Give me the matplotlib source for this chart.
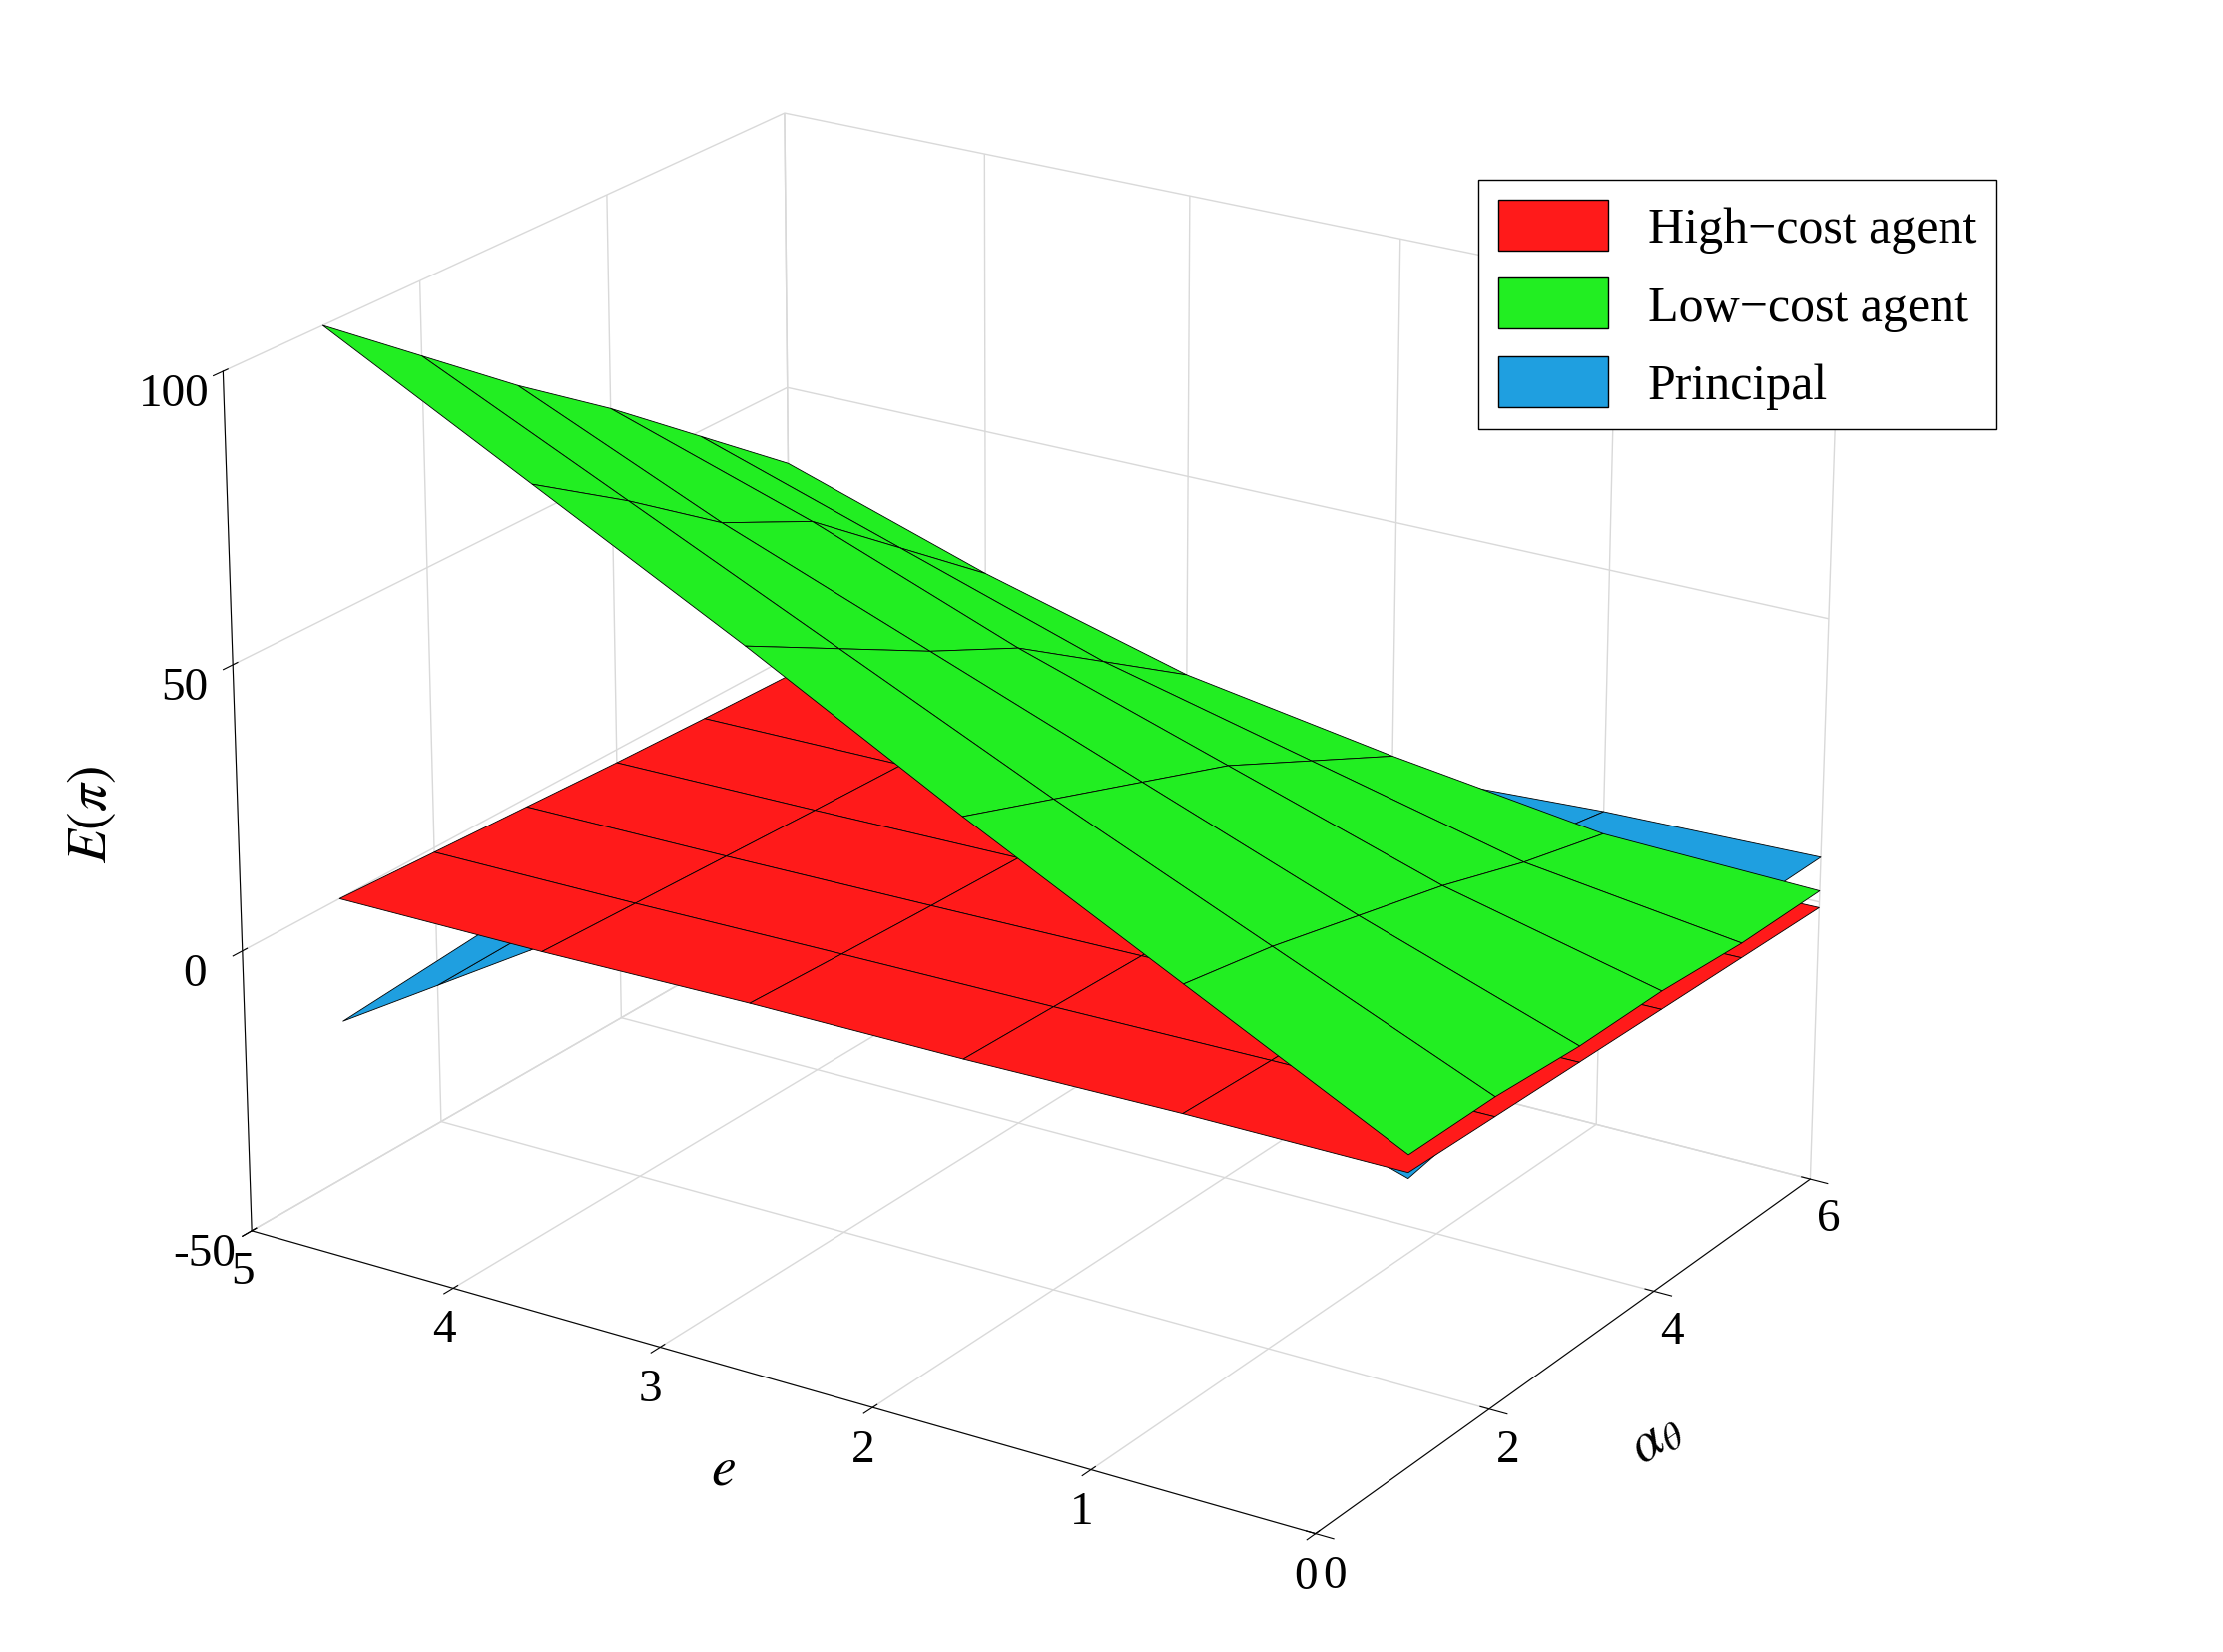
import numpy as np
import matplotlib
matplotlib.use("Agg")
import matplotlib.pyplot as plt
from matplotlib.patches import Patch

plt.rcParams['font.family'] = ['Liberation Serif', 'DejaVu Serif']
plt.rcParams['mathtext.fontset'] = 'stix'
plt.rcParams['axes.unicode_minus'] = False

alpha_vals = [1, 2, 3, 4, 5, 6]
e_vals = [0, 1, 2, 3, 4, 5]

# rows: alpha, cols: e
green_z = [
    [4, 23, 42, 62, 81, 100],
    [4, 20, 36, 53, 70, 87],
    [3, 16, 30, 44, 58, 74],
    [3, 12, 24, 36, 50, 62],
    [2, 7, 16, 25, 37, 49],
    [2, 3, 8, 14, 24, 36],
]
red_z = [
    [1, 1, 0.5, 0.5, 0, 0],
    [0.6, 0.4, 0, -0.3, -0.7, -0.8],
    [0.2, 0, -0.5, -1, -1.4, -1.6],
    [-0.2, -0.5, -1, -1.6, -2.1, -2.4],
    [-0.6, -1, -1.5, -2, -2.7, -3],
    [-1, -1.5, -2, -2.5, -3, -3.5],
]
blue_z = [
    [0, 12, 22, 25, 10, -22],
    [3, 13, 20, 20, 5, -25],
    [6, 13, 17, 14, 0, -28],
    [8, 12, 13, 9, -4, -30],
    [8, 10, 10, 5, -8, -32],
    [8, 7, 5, 0, -12, -35],
]

A, E = np.meshgrid(alpha_vals, e_vals, indexing='ij')

fig = plt.figure(figsize=(22.27, 16.56), dpi=100)
ax = fig.add_subplot(111, projection='3d')
ax.set_position([-0.07, -0.03, 1.05, 1.08])

kw = dict(edgecolor='black', linewidth=0.6, shade=False, rstride=1, cstride=1)
ax.plot_surface(A, E, np.array(red_z), color='#ff1a1a', **kw)
ax.plot_surface(A, E, np.array(blue_z), color='#1f9fe0', **kw)
ax.plot_surface(A, E, np.array(green_z), color='#22ee22', **kw)

ax.set_xlim(0, 6)
ax.set_ylim(0, 5)
ax.set_zlim(-50, 100)
ax.set_xticks([0, 2, 4, 6])
ax.set_yticks([0, 1, 2, 3, 4, 5])
ax.set_zticks([-50, 0, 50, 100])
ax.tick_params(labelsize=34)
ax.tick_params(axis='z', pad=12)
ax.set_xlabel(r'$\alpha_\theta$', fontsize=40, labelpad=30)
ax.set_ylabel(r'$e$', fontsize=40, labelpad=30)
ax.zaxis.set_rotate_label(False)
ax.set_zlabel(r'$E(\pi)$', fontsize=40, labelpad=40, rotation=90)
ax.view_init(elev=22, azim=-147)
ax.set_box_aspect((1, 1.3, 0.95))

for axis in (ax.xaxis, ax.yaxis, ax.zaxis):
    axis.set_pane_color((1, 1, 1, 1))
    axis._axinfo['grid']['color'] = (0.85, 0.85, 0.85, 1)
    axis._axinfo['grid']['linewidth'] = 1.0

handles = [Patch(facecolor='#ff1a1a', edgecolor='black', label='High\u2212cost agent'),
           Patch(facecolor='#22ee22', edgecolor='black', label='Low\u2212cost agent'),
           Patch(facecolor='#1f9fe0', edgecolor='black', label='Principal')]
fig.legend(handles=handles, loc='upper right', bbox_to_anchor=(0.905, 0.9),
           fontsize=36, fancybox=False, edgecolor='black', framealpha=1,
           handlelength=2.2, handleheight=1.2, borderaxespad=0.3)

fig.savefig('out.png', dpi=100)
